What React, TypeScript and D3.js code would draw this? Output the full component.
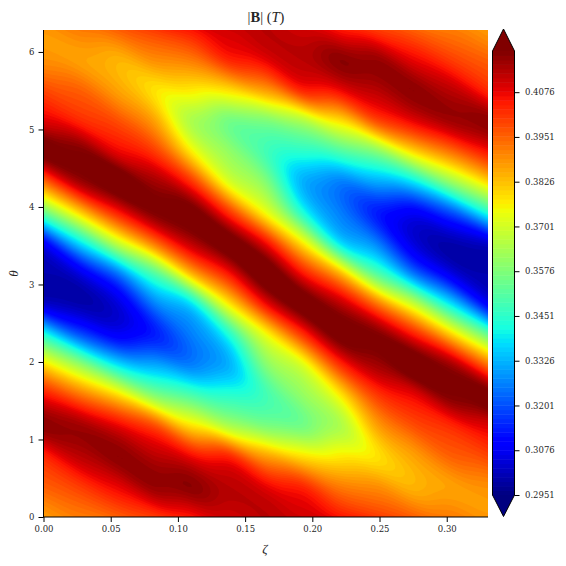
import React, { useEffect, useRef } from 'react';
import * as d3 from 'd3';

// |B|, one list per zeta column, theta = 0 .. 2pi in 17 steps.
// Each number is the position on the colourbar span (0 = 0.2951 T, 1 = 0.4191 T);
// above 1 the band is just saturated in the top colour.
const zetaCol0 = [.75,.81,.87,.99,.89,.68,.39,.07,.04,.11,.47,.79,1.02,.92,.84,.76,.75];
const zetaCol1 = [.78,.85,.95,.97,.79,.53,.20,.04,.09,.35,.69,.97,1.0,.87,.81,.74,.78];
const zetaCol2 = [.81,.91,.99,.91,.68,.35,.11,.08,.24,.59,.88,1.04,.91,.83,.74,.72,.81];
const zetaCol3 = [.85,.98,.95,.83,.51,.29,.15,.25,.45,.79,1.0,.97,.85,.74,.67,.76,.85];
const zetaCol4 = [.89,.99,.90,.67,.44,.25,.25,.35,.72,.95,1.02,.86,.66,.56,.66,.78,.89];
const zetaCol5 = [.93,.95,.87,.56,.40,.30,.39,.66,.89,1.03,.86,.62,.53,.49,.67,.87,.93];
const zetaCol6 = [.95,.91,.74,.50,.43,.51,.64,.90,1.04,.90,.64,.51,.43,.50,.74,.91,.95];
const zetaCol7 = [.93,.87,.67,.49,.53,.62,.86,1.03,.89,.66,.39,.30,.40,.56,.87,.95,.93];
const zetaCol8 = [.89,.78,.66,.56,.66,.86,1.02,.95,.72,.35,.25,.25,.44,.67,.90,.99,.89];
const zetaCol9 = [.85,.76,.67,.74,.85,.97,1.0,.79,.45,.25,.15,.29,.51,.83,.95,.98,.85];
const zetaCol10 = [.81,.72,.74,.83,.91,1.04,.88,.59,.24,.08,.11,.35,.68,.91,.99,.91,.81];
const zetaCol11 = [.78,.74,.81,.87,1.0,.97,.69,.35,.09,.04,.20,.53,.79,.97,.95,.85,.78];
const zetaCol12 = [.75,.76,.84,.92,1.02,.79,.47,.11,.04,.07,.39,.68,.89,.99,.87,.81,.75];
const columns = [zetaCol0, zetaCol1, zetaCol2, zetaCol3, zetaCol4, zetaCol5, zetaCol6,
  zetaCol7, zetaCol8, zetaCol9, zetaCol10, zetaCol11, zetaCol12];

const zetaMax = 0.3307;
const thetaMax = 2 * Math.PI;
const bMin = 0.2951;
const bMax = 0.4191;
const nLevels = 100;

const zetaTicks = [0, 0.05, 0.1, 0.15, 0.2, 0.25, 0.3];
const thetaTicks = [0, 1, 2, 3, 4, 5, 6];
const cbarTicks = [0.2951, 0.3076, 0.3201, 0.3326, 0.3451, 0.3576, 0.3701, 0.3826, 0.3951, 0.4076];

const FONT = '"DejaVu Serif", serif';
const MATH = '"Liberation Serif", serif';

// matplotlib's jet, as d3 piecewise scales
const jetR = d3.scaleLinear([0, .35, .66, .89, 1], [0, 0, 1, 1, .5]);
const jetG = d3.scaleLinear([0, .125, .375, .64, .91, 1], [0, 0, 1, 1, 0, 0]);
const jetB = d3.scaleLinear([0, .11, .34, .65, 1], [.5, 1, 1, 0, 0]);
const jet = (t: number) => d3.rgb(jetR(t) * 255, jetG(t) * 255, jetB(t) * 255).formatRgb();

const x = d3.scaleLinear([0, zetaMax], [43.5, 488]);
const y = d3.scaleLinear([0, thetaMax], [517, 30]);
const cbarY = d3.scaleLinear([bMin, bMax], [495, 51]);
const toB = d3.scaleLinear([0, 1], [bMin, bMax]);
const toColorT = d3.scaleLinear([bMin, bMax], [0, 1]);

const levels = d3.range(nLevels).map((i) => bMin + (i * (bMax - bMin)) / (nLevels - 1));

const cr = (a: number, b: number, c: number, d: number, t: number) =>
  0.5 * (2 * b + (c - a) * t + (2 * a - 5 * b + 4 * c - d) * t * t + (3 * b - a - 3 * c + d) * t * t * t);

const SUB_X = 16;
const SUB_Y = 12;
const nCols = columns.length;
const nRows = columns[0].length;
const period = nRows - 1;
const nx = (nCols - 1) * SUB_X + 1;
const ny = (nRows - 1) * SUB_Y + 1;

// the bands run diagonally, so columns are blended along the ridge direction (rows per column)
const RIDGE_SHEAR = 0.61;

const wrap = (j: number) => ((j % period) + period) % period;

const colAt = (k: number, v: number) => {
  const col = columns[k];
  const j = Math.floor(v);
  return cr(col[wrap(j - 1)], col[wrap(j)], col[wrap(j + 1)], col[wrap(j + 2)], v - j);
};

const sample = (u: number, v: number) => {
  const i = Math.min(nCols - 2, Math.floor(u));
  const tu = u - i;
  const along = (k: number) => colAt(k, v + RIDGE_SHEAR * (u - k));
  const a = i > 0 ? along(i - 1) : 2 * along(0) - along(1);
  const d = i + 2 < nCols ? along(i + 2) : 2 * along(nCols - 1) - along(nCols - 2);
  return cr(a, along(i), along(i + 1), d, tu);
};

const buildField = () => {
  const values = new Float64Array(nx * ny);
  for (let b = 0; b < ny; b++) {
    for (let a = 0; a < nx; a++) {
      values[a + b * nx] = toB(sample(a / SUB_X, b / SUB_Y));
    }
  }
  return values;
};

const field = buildField();
const bands = d3.contours().size([nx, ny]).thresholds(levels)(field as unknown as number[]);

const gridPath = d3.geoPath(d3.geoTransform({
  point(px, py) {
    this.stream.point(
      x(((px - 0.5) / (nx - 1)) * zetaMax),
      y(((py - 0.5) / (ny - 1)) * thetaMax),
    );
  },
}));

const bandColor = (i: number) => {
  const lo = levels[i];
  const hi = i + 1 < levels.length ? levels[i + 1] : lo;
  return jet(toColorT((lo + hi) / 2));
};

export default function App() {
  const xAxisRef = useRef<SVGGElement>(null);
  const yAxisRef = useRef<SVGGElement>(null);
  const cbarAxisRef = useRef<SVGGElement>(null);

  useEffect(() => {
    const style = (g: d3.Selection<SVGGElement, unknown, null, undefined>) => {
      g.selectAll('.domain').remove();
      g.selectAll('text').attr('font-family', FONT).attr('font-size', 8.5).attr('fill', '#262626');
      g.selectAll('line').attr('stroke', '#000').attr('stroke-width', 1);
    };
    d3.select(xAxisRef.current!)
      .call(d3.axisBottom(x).tickValues(zetaTicks).tickFormat(d3.format('.2f')).tickSize(5).tickPadding(4))
      .call(style);
    d3.select(yAxisRef.current!)
      .call(d3.axisLeft(y).tickValues(thetaTicks).tickFormat(d3.format('d')).tickSize(5).tickPadding(4))
      .call(style);
    d3.select(cbarAxisRef.current!)
      .call(d3.axisRight(cbarY).tickValues(cbarTicks).tickFormat(d3.format('.4f')).tickSize(5).tickPadding(5.5))
      .call(style);
  }, []);

  const cbarLeft = 492.5;
  const cbarRight = 514.5;
  const cbarMid = (cbarLeft + cbarRight) / 2;

  return (
    <svg width={566} height={566} style={{ position: 'absolute', left: 0, top: 0, background: '#fff' }}>
      <defs>
        <clipPath id="plot-area">
          <rect x={x(0)} y={y(thetaMax)} width={x(zetaMax) - x(0)} height={y(0) - y(thetaMax)} />
        </clipPath>
      </defs>

      <g clipPath="url(#plot-area)">
        <rect x={x(0)} y={y(thetaMax)} width={x(zetaMax) - x(0)} height={y(0) - y(thetaMax)} fill={jet(0)} />
        {bands.map((band, i) => (
          <path key={i} d={gridPath(band) ?? ''} fill={bandColor(i)} />
        ))}
      </g>

      <line x1={x(0)} x2={x(0)} y1={y(thetaMax)} y2={y(0) + 0.5} stroke="#000" strokeWidth={1} />
      <line x1={x(0)} x2={x(zetaMax)} y1={y(0)} y2={y(0)} stroke="#000" strokeWidth={1} />
      <g ref={xAxisRef} transform={`translate(0,${y(0)})`} />
      <g ref={yAxisRef} transform={`translate(${x(0)},0)`} />

      {/* colourbar: one rect per contour band, triangles for the extensions */}
      {levels.slice(0, -1).map((lv, i) => (
        <rect
          key={lv}
          x={cbarLeft}
          y={cbarY(levels[i + 1])}
          width={cbarRight - cbarLeft}
          height={cbarY(lv) - cbarY(levels[i + 1]) + 0.5}
          fill={bandColor(i)}
        />
      ))}
      <polygon points={`${cbarLeft},${cbarY(bMax)} ${cbarMid},29 ${cbarRight},${cbarY(bMax)}`} fill={jet(1)} />
      <polygon points={`${cbarLeft},${cbarY(bMin)} ${cbarMid},516.5 ${cbarRight},${cbarY(bMin)}`} fill={jet(0)} />
      <polygon
        points={`${cbarLeft},${cbarY(bMax)} ${cbarMid},29 ${cbarRight},${cbarY(bMax)} ${cbarRight},${cbarY(bMin)} ${cbarMid},516.5 ${cbarLeft},${cbarY(bMin)}`}
        fill="none"
        stroke="#000"
        strokeWidth={1}
      />
      <g ref={cbarAxisRef} transform={`translate(${cbarRight},0)`} />

      <text x={266} y={22} textAnchor="middle" fontFamily={MATH} fontSize={14.5} fill="#262626">
        |<tspan fontWeight="bold">B</tspan>| (<tspan fontStyle="italic">T</tspan>)
      </text>
      <text x={265} y={553} textAnchor="middle" fontFamily={MATH} fontStyle="italic" fontSize={13} fill="#262626">ζ</text>
      <text
        transform="translate(18,273.5) rotate(-90)"
        textAnchor="middle"
        fontFamily={MATH}
        fontStyle="italic"
        fontSize={13}
        fill="#262626"
      >θ</text>
    </svg>
  );
}
